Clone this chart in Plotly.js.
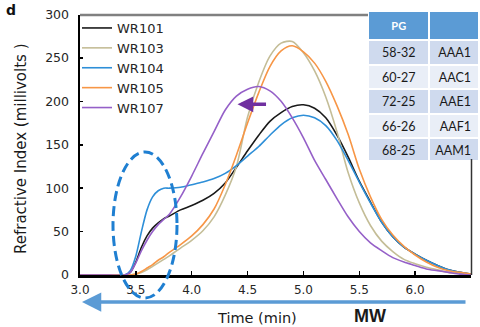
<!DOCTYPE html>
<html>
<head>
<meta charset="utf-8">
<script src="https://cdn.plot.ly/plotly-3.0.1.min.js"></script>
<style>html,body{margin:0;padding:0;background:#fff;}#chart{width:480px;height:327px;}</style>
</head>
<body>
<div id="chart"></div>
<script>
// Elution time (min)
const time = [3.0, 3.2, 3.4, 3.45, 3.5, 3.55, 3.6, 3.65, 3.7, 3.75, 3.8,
  3.9, 4.0, 4.1, 4.2, 4.3, 4.4, 4.5, 4.6, 4.7, 4.8, 4.9, 5.0, 5.1, 5.2, 5.3,
  5.4, 5.5, 5.6, 5.7, 5.8, 5.9, 6.0, 6.1, 6.2, 6.3, 6.4, 6.5];

// Refractive index (millivolts)
const wr101 = [0, 0, 0, 3, 15, 32, 45, 54, 60, 65, 68,
  75, 80, 86, 94, 106, 124, 143, 161, 177, 187, 194, 196, 192, 181, 161,
  136, 108, 84, 61, 44, 32, 24, 17, 11, 6, 3, 1];
const wr103 = [0, 0, 0, 0, 1, 3, 6, 10, 14, 18, 22,
  31, 40, 51, 67, 92, 125, 182, 222, 252, 267, 269, 256, 235, 205, 165,
  118, 83, 57, 39, 27, 18, 13, 9, 6, 3, 2, 1];
const wr104 = [0, 0, 0, 5, 22, 50, 75, 90, 97, 100, 100,
  101, 104, 107, 111, 117, 126, 137, 148, 161, 173, 181, 184, 181, 172, 155,
  132, 107, 83, 61, 44, 32, 24, 17, 11, 6, 3, 1];
const wr105 = [0, 0, 0, 0, 1, 4, 8, 12, 17, 21, 26,
  35, 45, 58, 76, 104, 138, 175, 210, 240, 258, 264, 257, 244, 223, 195,
  162, 122, 90, 64, 46, 33, 23, 15, 9, 5, 3, 1];
const wr107 = [0, 0, 0, 3, 14, 28, 40, 50, 58, 64, 70,
  90, 114, 140, 165, 190, 206, 214, 217, 212, 200, 181, 158, 132, 110, 88,
  67, 50, 37, 28, 20, 15, 11, 7, 5, 3, 1, 0];

const seriesNames = ['WR101', 'WR103', 'WR104', 'WR105', 'WR107'];
const seriesValues = [wr101, wr103, wr104, wr105, wr107];
const seriesColors = ['#1a1a1a', '#C4BD97', '#2E8FD8', '#F79646', '#9560C8'];

const xTickVals = [3.0, 3.5, 4.0, 4.5, 5.0, 5.5, 6.0, 6.5];
const xTickText = ['3.0', '3.5', '4.0', '4.5', '5.0', '5.5', '6.0', '6.5'];
const yTickVals = [0, 50, 100, 150, 200, 250, 300];

// Inset table
const tableHeader = ['<b>PG</b>', ''];
const pgCodes = ['58-32', '60-27', '72-25', '66-26', '68-25'];
const aaCodes = ['AAA1', 'AAC1', 'AAE1', 'AAF1', 'AAM1'];

// Arrow showing the shifted peak
const shiftArrowHead = {x: 4.41, y: 196.6};

const W = 480, H = 327;
const px = v => v / W;
const py = v => 1 - v / H;
const font = 'DejaVu Sans';

const traces = seriesNames.map((name, i) => ({
  type: 'scatter', mode: 'lines', name: name,
  x: time, y: seriesValues[i],
  line: {color: seriesColors[i], width: 1.6, shape: 'spline', smoothing: 0.8}
}));

const rowColors = pgCodes.map((_, i) => i % 2 === 0 ? '#CFDAEE' : '#E9EEF7');
traces.push({
  type: 'table',
  domain: {x: [px(368), 1], y: [py(160), py(11)]},
  columnwidth: [62, 50],
  header: {values: tableHeader, fill: {color: '#5B9BD5'}, align: 'center',
    height: 23, line: {color: 'white', width: 2},
    font: {family: 'Lato', size: 11, color: 'white'}},
  cells: {values: [pgCodes, aaCodes], fill: {color: [rowColors, rowColors]},
    align: ['center', 'right'], height: 24.5, line: {color: 'white', width: 2},
    font: {family: 'Lato', size: 12.5, color: '#1a1a1a'}}
});

const layout = {
  width: W, height: H,
  margin: {l: 0, r: 0, t: 0, b: 0},
  paper_bgcolor: 'white', plot_bgcolor: 'white',
  font: {family: font, color: '#262626'},
  showlegend: true,
  legend: {x: px(77), y: py(13), xanchor: 'left', yanchor: 'top',
    bgcolor: 'rgba(0,0,0,0)', font: {family: font, size: 13, color: '#262626'},
    itemwidth: 30, tracegroupgap: 0},
  xaxis: {domain: [px(80), px(471)], range: [3.0, 6.5],
    tickvals: xTickVals, ticktext: xTickText,
    showline: true, linecolor: 'black', linewidth: 2.5,
    ticks: 'inside', ticklen: 4, tickwidth: 1.5, tickcolor: 'black',
    ticklabelstandoff: 2,
    showgrid: false, zeroline: false,
    tickfont: {family: font, size: 12, color: '#262626'}},
  yaxis: {domain: [py(275), py(14.5)], range: [0, 300],
    tickvals: yTickVals,
    showline: true, linecolor: 'black', linewidth: 2.5,
    ticks: 'inside', ticklen: 3, tickwidth: 1.5, tickcolor: 'black',
    ticklabelstandoff: 6,
    showgrid: false, zeroline: false,
    tickfont: {family: font, size: 12.5, color: '#262626'}},
  shapes: [
    {type: 'line', xref: 'paper', yref: 'paper', x0: px(80), x1: px(368), y0: py(15), y1: py(15),
      line: {color: '#808080', width: 2.5}},
    {type: 'line', xref: 'paper', yref: 'paper', x0: px(471.5), x1: px(471.5), y0: py(159), y1: py(275),
      line: {color: '#333', width: 1.5}},
    {type: 'circle', xref: 'paper', yref: 'paper', x0: px(113), x1: px(177), y0: py(298), y1: py(152),
      line: {color: '#1F7FD1', width: 3, dash: '10px,5px'}}
  ],
  annotations: [
    {xref: 'paper', yref: 'paper', x: px(257), y: py(318), text: 'Time (min)', showarrow: false,
      xanchor: 'center', yanchor: 'middle', font: {family: font, size: 14.5, color: '#1a1a1a'}},
    {xref: 'paper', yref: 'paper', x: px(21), y: py(149), text: 'Refractive Index (millivolts )', showarrow: false,
      textangle: -90, xanchor: 'center', yanchor: 'middle', font: {family: font, size: 15, color: '#1a1a1a'}},
    {xref: 'paper', yref: 'paper', x: px(370), y: py(316), text: '<b>MW</b>', showarrow: false,
      xanchor: 'center', yanchor: 'middle', font: {family: 'Liberation Sans', size: 18, color: '#1a1a1a'}},
    {xref: 'paper', yref: 'paper', x: px(11), y: py(0), text: '<b>d</b>', showarrow: false,
      xanchor: 'center', yanchor: 'top', font: {family: font, size: 14, color: '#111'}},
    {xref: 'paper', yref: 'paper', x: px(82), y: py(302), ax: 385, ay: 0, text: '', showarrow: true,
      arrowhead: 2, arrowsize: 1.1, arrowwidth: 3.5, arrowcolor: '#5B9BD5', standoff: 0},
    {xref: 'x', yref: 'y', x: shiftArrowHead.x, y: shiftArrowHead.y, ax: 30, ay: 0, text: '', showarrow: true,
      arrowhead: 2, arrowsize: 0.9, arrowwidth: 3.5, arrowcolor: '#7030A0', standoff: 0}
  ]
};

Plotly.newPlot('chart', traces, layout, {displayModeBar: false, staticPlot: true});
</script>
</body>
</html>
